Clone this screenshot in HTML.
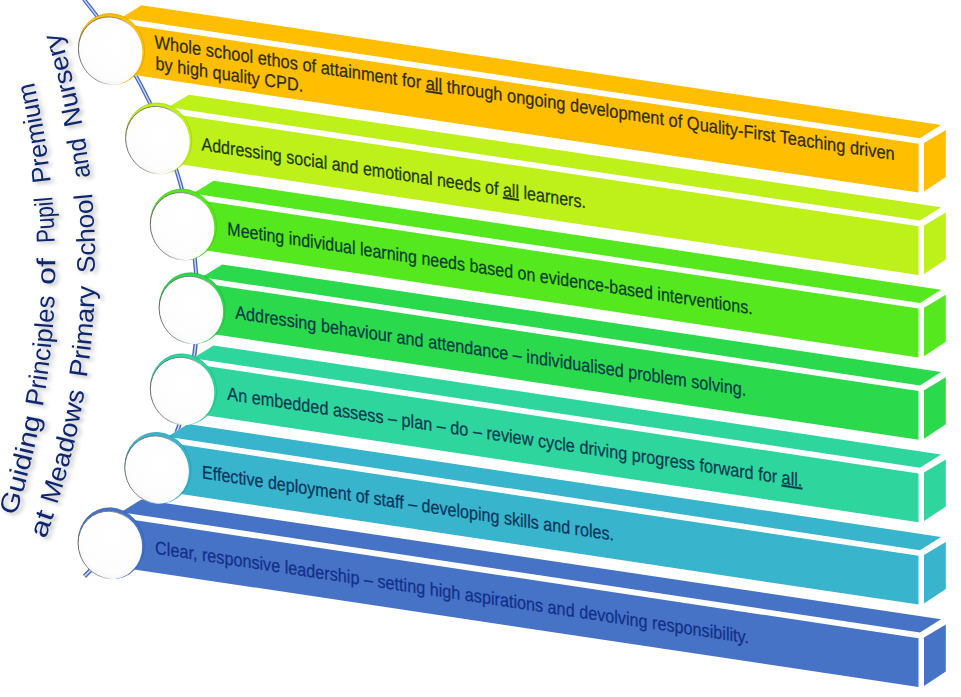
<!DOCTYPE html>
<html><head><meta charset="utf-8"><style>
html,body{margin:0;padding:0;background:#fff;}
svg{display:block;}
text{font-family:"Liberation Sans",sans-serif;}
</style></head><body>
<svg width="961" height="697" viewBox="0 0 961 697">
<defs>
<radialGradient id="wg" cx="0.55" cy="0.4" r="0.62"><stop offset="0" stop-color="#ffffff"/><stop offset="0.85" stop-color="#fdfdfe"/><stop offset="1" stop-color="#f4f5f7"/></radialGradient>
<linearGradient id="sg" x1="0" y1="0.2" x2="1" y2="0.6"><stop offset="0" stop-color="#5a5a5a"/><stop offset="0.5" stop-color="#8a8a8a"/><stop offset="0.75" stop-color="#fff"/></linearGradient>
<filter id="sh" x="-20%" y="-20%" width="140%" height="140%"><feDropShadow dx="3.2" dy="1.8" stdDeviation="2.2" flood-color="#000" flood-opacity="0.3"/></filter>
<path id="t1" d="M11.20,530.00 L11.98,527.65 L12.75,525.30 L13.52,522.95 L14.28,520.60 L15.03,518.25 L15.77,515.90 L16.51,513.55 L17.24,511.20 L17.96,508.85 L18.68,506.50 L19.39,504.15 L20.09,501.80 L20.79,499.45 L21.48,497.10 L22.16,494.75 L22.83,492.40 L23.50,490.05 L24.16,487.70 L24.81,485.35 L25.46,483.00 L26.10,480.65 L26.73,478.30 L27.36,475.95 L27.98,473.60 L28.59,471.25 L29.20,468.90 L29.79,466.55 L30.39,464.20 L30.97,461.85 L31.55,459.50 L32.12,457.15 L32.68,454.80 L33.24,452.45 L33.79,450.10 L34.33,447.75 L34.86,445.40 L35.39,443.05 L35.91,440.70 L36.43,438.35 L36.94,436.00 L37.44,433.65 L37.93,431.30 L38.42,428.95 L38.90,426.60 L39.37,424.25 L39.83,421.90 L40.29,419.55 L40.74,417.20 L41.19,414.85 L41.63,412.50 L42.06,410.15 L42.48,407.80 L42.90,405.45 L43.31,403.10 L43.71,400.75 L44.11,398.40 L44.50,396.05 L44.88,393.70 L45.26,391.35 L45.62,389.00 L45.99,386.65 L46.34,384.30 L46.69,381.95 L47.03,379.60 L47.36,377.25 L47.69,374.90 L48.01,372.55 L48.32,370.20 L48.62,367.85 L48.92,365.50 L49.22,363.15 L49.50,360.80 L49.78,358.45 L50.05,356.10 L50.31,353.75 L50.57,351.40 L50.82,349.05 L51.06,346.70 L51.30,344.35 L51.53,342.00 L51.75,339.65 L51.96,337.30 L52.17,334.95 L52.37,332.60 L52.57,330.25 L52.75,327.90 L52.93,325.55 L53.11,323.20 L53.27,320.85 L53.43,318.50 L53.59,316.15 L53.73,313.80 L53.87,311.45 L54.00,309.10 L54.13,306.75 L54.24,304.40 L54.35,302.05 L54.46,299.70 L54.55,297.35 L54.64,295.00 L54.73,292.65 L54.80,290.30 L54.87,287.95 L54.93,285.60 L54.99,283.25 L55.04,280.90 L55.08,278.55 L55.11,276.20 L55.14,273.85 L55.16,271.50 L55.17,269.15 L55.18,266.80 L55.18,264.45 L55.17,262.10 L55.15,259.75 L55.13,257.40 L55.10,255.05 L55.07,252.70 L55.03,250.35 L54.98,248.00 L54.92,245.65 L54.86,243.30 L54.79,240.95 L54.71,238.60 L54.62,236.25 L54.53,233.90 L54.43,231.55 L54.33,229.20 L54.22,226.85 L54.10,224.50 L53.97,222.15 L53.84,219.80 L53.70,217.45 L53.55,215.10 L53.40,212.75 L53.24,210.40 L53.07,208.05 L52.89,205.70 L52.71,203.35 L52.52,201.00 L52.33,198.65 L52.12,196.30 L51.91,193.95 L51.70,191.60 L51.47,189.25 L51.24,186.90 L51.01,184.55 L50.76,182.20 L50.51,179.85 L50.25,177.50 L49.99,175.15 L49.71,172.80 L49.43,170.45 L49.15,168.10 L48.85,165.75 L48.55,163.40 L48.25,161.05 L47.93,158.70 L47.61,156.35 L47.28,154.00 L46.95,151.65 L46.61,149.30 L46.26,146.95 L45.90,144.60 L45.54,142.25 L45.17,139.90 L44.79,137.55 L44.41,135.20 L44.02,132.85 L43.62,130.50 L43.21,128.15 L42.80,125.80 L42.38,123.45 L41.96,121.10 L41.53,118.75 L41.09,116.40 L40.64,114.05 L40.19,111.70 L39.73,109.35 L39.26,107.00 L38.78,104.65 L38.30,102.30 L37.81,99.95 L37.32,97.60 L36.82,95.25 L36.31,92.90 L35.79,90.55 L35.27,88.20 L34.74,85.85 L34.20,83.50 L33.66,81.15 L33.11,78.80 L32.55,76.45 L31.98,74.10 L31.41,71.75 L30.83,69.40 L30.25,67.05 L29.65,64.70 L29.05,62.35 L28.45,60.00"/><path id="t2" d="M41.41,550.00 L42.42,547.30 L43.43,544.60 L44.42,541.90 L45.41,539.20 L46.38,536.50 L47.35,533.80 L48.30,531.10 L49.25,528.40 L50.19,525.70 L51.11,523.00 L52.03,520.30 L52.94,517.60 L53.84,514.90 L54.72,512.20 L55.60,509.50 L56.47,506.80 L57.33,504.10 L58.18,501.40 L59.02,498.70 L59.85,496.00 L60.68,493.30 L61.49,490.60 L62.29,487.90 L63.08,485.20 L63.86,482.50 L64.64,479.80 L65.40,477.10 L66.15,474.40 L66.90,471.70 L67.63,469.00 L68.36,466.30 L69.07,463.60 L69.78,460.90 L70.47,458.20 L71.16,455.50 L71.84,452.80 L72.50,450.10 L73.16,447.40 L73.81,444.70 L74.45,442.00 L75.07,439.30 L75.69,436.60 L76.30,433.90 L76.90,431.20 L77.49,428.50 L78.07,425.80 L78.64,423.10 L79.20,420.40 L79.75,417.70 L80.30,415.00 L80.83,412.30 L81.35,409.60 L81.86,406.90 L82.37,404.20 L82.86,401.50 L83.34,398.80 L83.82,396.10 L84.28,393.40 L84.74,390.70 L85.18,388.00 L85.62,385.30 L86.04,382.60 L86.46,379.90 L86.87,377.20 L87.26,374.50 L87.65,371.80 L88.03,369.10 L88.40,366.40 L88.76,363.70 L89.11,361.00 L89.44,358.30 L89.77,355.60 L90.09,352.90 L90.40,350.20 L90.71,347.50 L91.00,344.80 L91.28,342.10 L91.55,339.40 L91.81,336.70 L92.06,334.00 L92.31,331.30 L92.54,328.60 L92.76,325.90 L92.98,323.20 L93.18,320.50 L93.38,317.80 L93.56,315.10 L93.74,312.40 L93.90,309.70 L94.06,307.00 L94.21,304.30 L94.34,301.60 L94.47,298.90 L94.59,296.20 L94.70,293.50 L94.79,290.80 L94.88,288.10 L94.96,285.40 L95.03,282.70 L95.09,280.00 L95.14,277.30 L95.18,274.60 L95.21,271.90 L95.23,269.20 L95.25,266.50 L95.25,263.80 L95.24,261.10 L95.22,258.40 L95.20,255.70 L95.16,253.00 L95.11,250.30 L95.06,247.60 L94.99,244.90 L94.92,242.20 L94.83,239.50 L94.74,236.80 L94.63,234.10 L94.52,231.40 L94.40,228.70 L94.26,226.00 L94.12,223.30 L93.97,220.60 L93.81,217.90 L93.64,215.20 L93.45,212.50 L93.26,209.80 L93.06,207.10 L92.85,204.40 L92.63,201.70 L92.40,199.00 L92.16,196.30 L91.92,193.60 L91.66,190.90 L91.39,188.20 L91.11,185.50 L90.83,182.80 L90.53,180.10 L90.22,177.40 L89.91,174.70 L89.58,172.00 L89.25,169.30 L88.90,166.60 L88.55,163.90 L88.18,161.20 L87.81,158.50 L87.42,155.80 L87.03,153.10 L86.63,150.40 L86.22,147.70 L85.79,145.00 L85.36,142.30 L84.92,139.60 L84.47,136.90 L84.01,134.20 L83.54,131.50 L83.06,128.80 L82.57,126.10 L82.07,123.40 L81.56,120.70 L81.04,118.00 L80.51,115.30 L79.98,112.60 L79.43,109.90 L78.87,107.20 L78.31,104.50 L77.73,101.80 L77.14,99.10 L76.55,96.40 L75.94,93.70 L75.33,91.00 L74.70,88.30 L74.07,85.60 L73.43,82.90 L72.77,80.20 L72.11,77.50 L71.44,74.80 L70.75,72.10 L70.06,69.40 L69.36,66.70 L68.65,64.00 L67.93,61.30 L67.20,58.60 L66.46,55.90 L65.71,53.20 L64.95,50.50 L64.18,47.80 L63.40,45.10 L62.61,42.40 L61.82,39.70 L61.01,37.00 L60.19,34.30 L59.36,31.60 L58.53,28.90 L57.68,26.20 L56.83,23.50 L55.96,20.80 L55.08,18.10 L54.20,15.40 L53.31,12.70 L52.40,10.00"/>
</defs>
<rect width="961" height="697" fill="#fff"/>
<g transform="matrix(1,0.15,0,1,0,0)" fill="none"><path d="M83.7,-13.4 A424.0,424.0 0 0 1 84.4,563.7" stroke="#4A68B8" stroke-width="4.2"/><path d="M83.7,-13.4 A424.0,424.0 0 0 1 84.4,563.7" stroke="#C4D6FA" stroke-width="1.5"/></g>
<polygon points="141.6,5.2 941.0,124.9 945.8,130.0 945.8,177.0 924.0,191.5 918.5,192.6 111.1,71.6 111.1,22.1 121.1,17.9" fill="#fff"/><g fill="#FFBE00"><polygon points="141.6,5.2 941.0,124.9 920.0,138.2 121.1,17.9"/><polygon points="111.1,22.1 918.5,143.8 918.5,192.6 111.1,71.6"/><polygon points="924.0,143.0 945.8,130.0 945.8,177.0 924.0,191.5"/></g>
<polygon points="188.8,94.7 941.0,207.3 945.8,212.4 945.8,259.4 924.0,273.9 918.5,275.0 158.3,161.0 158.3,111.7 168.2,107.3" fill="#fff"/><g fill="#BEF01A"><polygon points="188.8,94.7 941.0,207.3 920.0,220.6 168.2,107.3"/><polygon points="158.3,111.7 918.5,226.2 918.5,275.0 158.3,161.0"/><polygon points="924.0,225.4 945.8,212.4 945.8,259.4 924.0,273.9"/></g>
<polygon points="213.5,180.7 941.0,289.7 945.8,294.8 945.8,341.8 924.0,356.3 918.5,357.4 183.0,247.1 183.0,197.8 192.8,193.5" fill="#fff"/><g fill="#55E81E"><polygon points="213.5,180.7 941.0,289.7 920.0,303.0 192.8,193.5"/><polygon points="183.0,197.8 918.5,308.6 918.5,357.4 183.0,247.1"/><polygon points="924.0,307.8 945.8,294.8 945.8,341.8 924.0,356.3"/></g>
<polygon points="222.3,264.5 941.0,372.1 945.8,377.2 945.8,424.2 924.0,438.7 918.5,439.8 191.8,330.9 191.8,281.5 201.6,277.2" fill="#fff"/><g fill="#2AD94C"><polygon points="222.3,264.5 941.0,372.1 920.0,385.4 201.6,277.2"/><polygon points="191.8,281.5 918.5,391.0 918.5,439.8 191.8,330.9"/><polygon points="924.0,390.2 945.8,377.2 945.8,424.2 924.0,438.7"/></g>
<polygon points="213.5,345.5 941.0,454.5 945.8,459.6 945.8,506.6 924.0,521.1 918.5,522.2 183.0,411.9 183.0,362.6 192.8,358.3" fill="#fff"/><g fill="#2ED69E"><polygon points="213.5,345.5 941.0,454.5 920.0,467.8 192.8,358.3"/><polygon points="183.0,362.6 918.5,473.4 918.5,522.2 183.0,411.9"/><polygon points="924.0,472.6 945.8,459.6 945.8,506.6 924.0,521.1"/></g>
<polygon points="188.0,424.1 941.0,536.9 945.8,542.0 945.8,589.0 924.0,603.5 918.5,604.6 157.5,490.5 157.5,441.1 167.4,436.8" fill="#fff"/><g fill="#38B4CC"><polygon points="188.0,424.1 941.0,536.9 920.0,550.2 167.4,436.8"/><polygon points="157.5,441.1 918.5,555.8 918.5,604.6 157.5,490.5"/><polygon points="924.0,555.0 945.8,542.0 945.8,589.0 924.0,603.5"/></g>
<polygon points="141.3,499.6 941.0,619.3 945.8,624.4 945.8,671.4 924.0,685.9 918.5,687.0 110.8,565.9 110.8,516.5 120.8,512.2" fill="#fff"/><g fill="#4673C6"><polygon points="141.3,499.6 941.0,619.3 920.0,632.6 120.8,512.2"/><polygon points="110.8,516.5 918.5,638.2 918.5,687.0 110.8,565.9"/><polygon points="924.0,637.4 945.8,624.4 945.8,671.4 924.0,685.9"/></g>
<g transform="translate(111.10,48.56) skewY(3.319)"><ellipse cx="0.45" cy="0.3" rx="33.05" ry="35.4" fill="#FFBE00" stroke="#d99a00" stroke-width="0.6"/><ellipse cx="-0.9" cy="2.1" rx="31.8" ry="33.65" fill="url(#wg)" stroke="url(#sg)" stroke-width="0.9"/></g>
<g transform="translate(158.30,138.05) skewY(3.319)"><ellipse cx="0.45" cy="0.3" rx="33.05" ry="35.4" fill="#BEF01A" stroke="#9dc810" stroke-width="0.6"/><ellipse cx="-0.9" cy="2.1" rx="31.8" ry="33.65" fill="url(#wg)" stroke="url(#sg)" stroke-width="0.9"/></g>
<g transform="translate(183.00,224.16) skewY(3.319)"><ellipse cx="0.45" cy="0.3" rx="33.05" ry="35.4" fill="#55E81E" stroke="#3fc010" stroke-width="0.6"/><ellipse cx="-0.9" cy="2.1" rx="31.8" ry="33.65" fill="url(#wg)" stroke="url(#sg)" stroke-width="0.9"/></g>
<g transform="translate(191.80,307.88) skewY(3.319)"><ellipse cx="0.45" cy="0.3" rx="33.05" ry="35.4" fill="#2AD94C" stroke="#1fb23c" stroke-width="0.6"/><ellipse cx="-0.9" cy="2.1" rx="31.8" ry="33.65" fill="url(#wg)" stroke="url(#sg)" stroke-width="0.9"/></g>
<g transform="translate(183.00,388.96) skewY(3.319)"><ellipse cx="0.45" cy="0.3" rx="33.05" ry="35.4" fill="#2ED69E" stroke="#20b080" stroke-width="0.6"/><ellipse cx="-0.9" cy="2.1" rx="31.8" ry="33.65" fill="url(#wg)" stroke="url(#sg)" stroke-width="0.9"/></g>
<g transform="translate(157.50,467.53) skewY(3.319)"><ellipse cx="0.45" cy="0.3" rx="33.05" ry="35.4" fill="#38B4CC" stroke="#2890a8" stroke-width="0.6"/><ellipse cx="-0.9" cy="2.1" rx="31.8" ry="33.65" fill="url(#wg)" stroke="url(#sg)" stroke-width="0.9"/></g>
<g transform="translate(110.80,542.91) skewY(3.319)"><ellipse cx="0.45" cy="0.3" rx="33.05" ry="35.4" fill="#4673C6" stroke="#3558a8" stroke-width="0.6"/><ellipse cx="-0.9" cy="2.1" rx="31.8" ry="33.65" fill="url(#wg)" stroke="url(#sg)" stroke-width="0.9"/></g>
<g transform="matrix(1,0.1512,0,1,0,0)" font-size="18.4" stroke-width="0.25">
<text x="154.6" y="24.9" textLength="740.1" lengthAdjust="spacingAndGlyphs" fill="#302c1c" stroke="#302c1c">Whole school ethos of attainment for <tspan text-decoration="underline">all</tspan> through ongoing development of Quality-First Teaching driven</text>
<text x="155.5" y="46.1" textLength="147.7" lengthAdjust="spacingAndGlyphs" fill="#302c1c" stroke="#302c1c">by high quality CPD.</text>
<text x="201.5" y="119.7" textLength="384.4" lengthAdjust="spacingAndGlyphs" fill="#1e381a" stroke="#1e381a">Addressing social and emotional needs of <tspan text-decoration="underline">all</tspan> learners.</text>
<text x="227.3" y="200.6" textLength="525.3" lengthAdjust="spacingAndGlyphs" fill="#0c3d30" stroke="#0c3d30">Meeting individual learning needs based on evidence-based interventions.</text>
<text x="235.3" y="283.0" textLength="510.9" lengthAdjust="spacingAndGlyphs" fill="#0d3a48" stroke="#0d3a48">Addressing behaviour and attendance – individualised problem solving.</text>
<text x="227.3" y="365.4" textLength="575.1" lengthAdjust="spacingAndGlyphs" fill="#0e3a50" stroke="#0e3a50">An embedded assess – plan – do – review cycle driving progress forward for <tspan text-decoration="underline">all.</tspan></text>
<text x="202.0" y="447.8" textLength="412.0" lengthAdjust="spacingAndGlyphs" fill="#0c355e" stroke="#0c355e">Effective deployment of staff – developing skills and roles.</text>
<text x="155.1" y="530.2" textLength="593.9" lengthAdjust="spacingAndGlyphs" fill="#132f88" stroke="#132f88">Clear, responsive leadership – setting high aspirations and devolving responsibility.</text>
</g>
<g fill="#10286e" font-size="26" filter="url(#sh)">
<text><textPath href="#t1" startOffset="14.7" textLength="102.2" lengthAdjust="spacingAndGlyphs">Guiding</textPath></text>
<text><textPath href="#t1" startOffset="127.1" textLength="111.7" lengthAdjust="spacingAndGlyphs">Principles</textPath></text>
<text><textPath href="#t1" startOffset="249.8" textLength="27.1" lengthAdjust="spacingAndGlyphs">of</textPath></text>
<text><textPath href="#t1" startOffset="292.2" textLength="46.2" lengthAdjust="spacingAndGlyphs">Pupil</textPath></text>
<text><textPath href="#t1" startOffset="353.0" textLength="101.5" lengthAdjust="spacingAndGlyphs">Premium</textPath></text>
<text><textPath href="#t2" startOffset="11.4" textLength="27.1" lengthAdjust="spacingAndGlyphs">at</textPath></text>
<text><textPath href="#t2" startOffset="47.6" textLength="117.4" lengthAdjust="spacingAndGlyphs">Meadows</textPath></text>
<text><textPath href="#t2" startOffset="178.2" textLength="92.4" lengthAdjust="spacingAndGlyphs">Primary</textPath></text>
<text><textPath href="#t2" startOffset="283.6" textLength="80.1" lengthAdjust="spacingAndGlyphs">School</textPath></text>
<text><textPath href="#t2" startOffset="379.8" textLength="40.4" lengthAdjust="spacingAndGlyphs">and</textPath></text>
<text><textPath href="#t2" startOffset="432.4" textLength="95.8" lengthAdjust="spacingAndGlyphs">Nursery</textPath></text>
</g>
</svg>
</body></html>
